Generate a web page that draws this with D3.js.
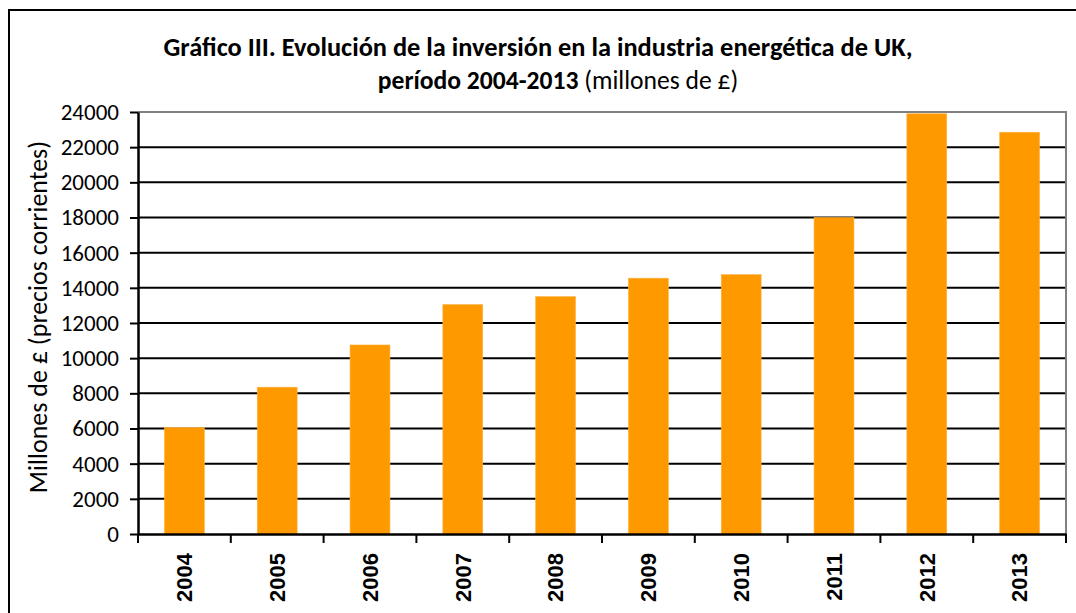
<!DOCTYPE html>
<html>
<head>
<meta charset="utf-8">
<script src="https://cdn.jsdelivr.net/npm/d3@7"></script>
<style>
  body { margin: 0; background: #fff; }
  svg { display: block; }
</style>
</head>
<body>
<svg id="chart" width="1076" height="613"></svg>
<script>
// data
const years = ['2004', '2005', '2006', '2007', '2008', '2009', '2010', '2011', '2012', '2013'];
const investment = [6050, 8350, 10750, 13050, 13500, 14550, 14750, 18000, 23900, 22850];
const yTicks = [0, 2000, 4000, 6000, 8000, 10000, 12000, 14000, 16000, 18000, 20000, 22000, 24000];

const svg = d3.select('#chart');
const plotL = 138, plotR = 1066, plotT = 112, plotB = 534;
const calibri = 'Carlito, Calibri, Lato, sans-serif';

// outer frame
svg.append('rect')
  .attr('x', 9).attr('y', 10)
  .attr('width', 1100).attr('height', 700)
  .attr('fill', 'none')
  .attr('stroke', '#000')
  .attr('stroke-width', 2);

// title
const title = svg.append('g')
  .attr('font-family', calibri)
  .attr('fill', '#000');
title.append('text')
  .attr('x', 538).attr('y', 56)
  .attr('text-anchor', 'middle')
  .attr('font-size', 26.4).attr('font-weight', 'bold')
  .text('Gráfico III. Evolución de la inversión en la industria energética de UK,');
const line2 = title.append('text')
  .attr('x', 558).attr('y', 89)
  .attr('text-anchor', 'middle')
  .attr('font-size', 25.6);
line2.append('tspan').attr('font-weight', 'bold').text('período 2004-2013');
line2.append('tspan').text(' (millones de £)');

const x = d3.scaleBand()
  .domain(years)
  .range([plotL, plotR])
  .padding(0);

const y = d3.scaleLinear()
  .domain([0, 24000])
  .range([plotB, plotT]);

// gridlines
svg.append('g')
  .selectAll('line')
  .data(yTicks.filter(d => d > 0 && d < 24000))
  .join('line')
  .attr('x1', plotL).attr('x2', plotR)
  .attr('y1', d => y(d)).attr('y2', d => y(d))
  .attr('stroke', '#000')
  .attr('stroke-width', 2);

// plot frame top / right (grey)
svg.append('path')
  .attr('d', `M${plotL},${plotT}H${plotR}V${plotB}`)
  .attr('fill', 'none')
  .attr('stroke', '#808080')
  .attr('stroke-width', 2);

// bars
const barW = x.bandwidth() * 0.43;
svg.append('g')
  .selectAll('rect')
  .data(years.map((yr, i) => ({ yr, v: investment[i] })))
  .join('rect')
  .attr('x', d => x(d.yr) + (x.bandwidth() - barW) / 2)
  .attr('y', d => y(d.v))
  .attr('width', barW)
  .attr('height', d => y(0) - y(d.v))
  .attr('fill', '#ff9900')
  .attr('stroke', '#ffb347')
  .attr('stroke-width', 0.6);

// y axis
const yAxis = svg.append('g')
  .attr('transform', `translate(${plotL},0)`)
  .call(d3.axisLeft(y).tickValues(yTicks).tickSize(8).tickPadding(11).tickSizeOuter(0).tickFormat(d3.format('d')));
yAxis.select('.domain').attr('stroke', '#000').attr('stroke-width', 2.5);
yAxis.selectAll('.tick line').attr('stroke', '#000').attr('stroke-width', 2);
yAxis.selectAll('.tick text')
  .attr('font-family', calibri)
  .attr('font-size', 23)
  .attr('fill', '#000');

// x axis
const xAxis = svg.append('g')
  .attr('transform', `translate(0,${plotB})`)
  .call(d3.axisBottom(x).tickSize(0).tickPadding(0).tickSizeOuter(0));
xAxis.select('.domain').attr('stroke', '#000').attr('stroke-width', 2.5);
xAxis.selectAll('.tick text')
  .attr('font-family', '"Liberation Sans", Arial, sans-serif')
  .attr('font-weight', 'bold')
  .attr('font-size', 22)
  .attr('fill', '#000')
  .attr('text-anchor', 'end')
  .attr('dy', '0.35em')
  .attr('transform', 'translate(0,19) rotate(-90)');

// x tick marks on category boundaries
svg.append('g')
  .selectAll('line')
  .data(years.concat(['end']))
  .join('line')
  .attr('x1', (d, i) => i < years.length ? x(d) : plotR)
  .attr('x2', (d, i) => i < years.length ? x(d) : plotR)
  .attr('y1', plotB).attr('y2', plotB + 9)
  .attr('stroke', '#000')
  .attr('stroke-width', 2);

// y axis label
svg.append('text')
  .attr('transform', `translate(47,${(plotT + plotB) / 2 - 6}) rotate(-90)`)
  .attr('text-anchor', 'middle')
  .attr('font-family', calibri)
  .attr('font-size', 26)
  .attr('fill', '#000')
  .text('Millones de £ (precios corrientes)');
</script>
</body>
</html>
